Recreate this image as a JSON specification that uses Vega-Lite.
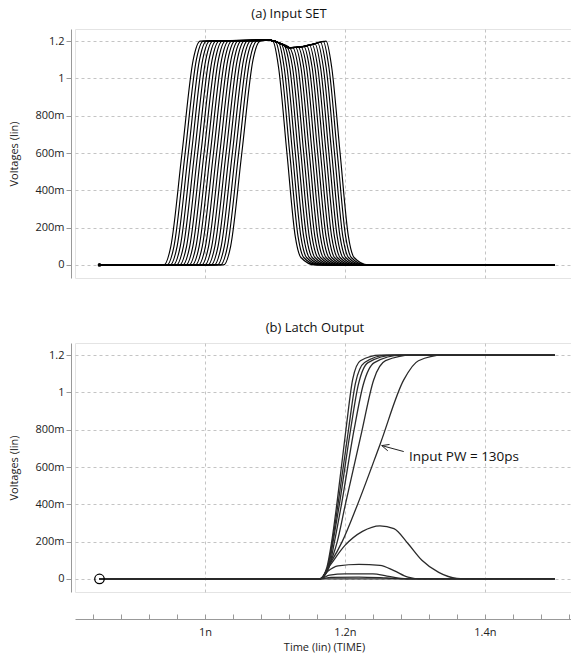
{
"$schema": "https://vega.github.io/schema/vega-lite/v6.json",
"padding": {"left": 8, "top": 7, "right": 0, "bottom": 0},
"spacing": 42,
"config": {
  "font": "Open Sans",
  "view": {"stroke": "#e4e4e4"},
  "axis": {"domainColor": "#999", "tickColor": "#999", "labelColor": "#222", "labelFontSize": 11, "labelFont": "Open Sans", "titleFont": "Open Sans", "titleFontSize": 11, "titleFontWeight": "normal", "titleColor": "#222", "gridColor": "#c4c4c4", "gridDash": [3, 3], "labelFlush": false},
  "title": {"fontSize": 13, "fontWeight": "normal", "color": "#111", "font": "Open Sans", "offset": 8}
},
"datasets": {
"a": [
{"c":0,"t":0.849,"v":0},{"c":0,"t":0.941,"v":0},{"c":0,"t":0.951,"v":0.1},{"c":0,"t":0.967,"v":0.6},{"c":0,"t":0.983,"v":1.1},{"c":0,"t":0.993,"v":1.2},{"c":0,"t":1.091,"v":1.205},{"c":0,"t":1.106,"v":1.19},{"c":0,"t":1.12,"v":1.165},{"c":0,"t":1.139,"v":1.17},{"c":0,"t":1.156,"v":1.185},{"c":0,"t":1.173,"v":1.2},{"c":0,"t":1.181,"v":1.06},{"c":0,"t":1.193,"v":0.6},{"c":0,"t":1.205,"v":0.15},{"c":0,"t":1.213,"v":0.04},{"c":0,"t":1.233,"v":0},{"c":0,"t":1.5,"v":0},
{"c":1,"t":0.849,"v":0},{"c":1,"t":0.9455,"v":0},{"c":1,"t":0.9555,"v":0.1},{"c":1,"t":0.9715,"v":0.6},{"c":1,"t":0.9875,"v":1.1},{"c":1,"t":0.9975,"v":1.2},{"c":1,"t":1.091,"v":1.205},{"c":1,"t":1.106,"v":1.19},{"c":1,"t":1.12,"v":1.165},{"c":1,"t":1.139,"v":1.17},{"c":1,"t":1.156,"v":1.185},{"c":1,"t":1.169,"v":1.199},{"c":1,"t":1.177,"v":1.06},{"c":1,"t":1.189,"v":0.6},{"c":1,"t":1.201,"v":0.15},{"c":1,"t":1.209,"v":0.04},{"c":1,"t":1.229,"v":0},{"c":1,"t":1.5,"v":0},
{"c":2,"t":0.849,"v":0},{"c":2,"t":0.95,"v":0},{"c":2,"t":0.96,"v":0.1},{"c":2,"t":0.976,"v":0.6},{"c":2,"t":0.992,"v":1.1},{"c":2,"t":1.002,"v":1.2},{"c":2,"t":1.091,"v":1.205},{"c":2,"t":1.106,"v":1.19},{"c":2,"t":1.12,"v":1.165},{"c":2,"t":1.139,"v":1.17},{"c":2,"t":1.156,"v":1.185},{"c":2,"t":1.165,"v":1.195},{"c":2,"t":1.173,"v":1.06},{"c":2,"t":1.185,"v":0.6},{"c":2,"t":1.197,"v":0.15},{"c":2,"t":1.205,"v":0.04},{"c":2,"t":1.225,"v":0},{"c":2,"t":1.5,"v":0},
{"c":3,"t":0.849,"v":0},{"c":3,"t":0.9545,"v":0},{"c":3,"t":0.9645,"v":0.1},{"c":3,"t":0.9805,"v":0.6},{"c":3,"t":0.9965,"v":1.1},{"c":3,"t":1.0065,"v":1.2},{"c":3,"t":1.091,"v":1.205},{"c":3,"t":1.106,"v":1.19},{"c":3,"t":1.12,"v":1.165},{"c":3,"t":1.139,"v":1.17},{"c":3,"t":1.156,"v":1.185},{"c":3,"t":1.161,"v":1.19},{"c":3,"t":1.169,"v":1.06},{"c":3,"t":1.181,"v":0.6},{"c":3,"t":1.193,"v":0.15},{"c":3,"t":1.201,"v":0.04},{"c":3,"t":1.221,"v":0},{"c":3,"t":1.5,"v":0},
{"c":4,"t":0.849,"v":0},{"c":4,"t":0.959,"v":0},{"c":4,"t":0.969,"v":0.1},{"c":4,"t":0.985,"v":0.6},{"c":4,"t":1.001,"v":1.1},{"c":4,"t":1.011,"v":1.2},{"c":4,"t":1.091,"v":1.205},{"c":4,"t":1.106,"v":1.19},{"c":4,"t":1.12,"v":1.165},{"c":4,"t":1.139,"v":1.17},{"c":4,"t":1.157,"v":1.186},{"c":4,"t":1.165,"v":1.06},{"c":4,"t":1.177,"v":0.6},{"c":4,"t":1.189,"v":0.15},{"c":4,"t":1.197,"v":0.04},{"c":4,"t":1.217,"v":0},{"c":4,"t":1.5,"v":0},
{"c":5,"t":0.849,"v":0},{"c":5,"t":0.9635,"v":0},{"c":5,"t":0.9735,"v":0.1},{"c":5,"t":0.9895,"v":0.6},{"c":5,"t":1.0055,"v":1.1},{"c":5,"t":1.0155,"v":1.2},{"c":5,"t":1.091,"v":1.205},{"c":5,"t":1.106,"v":1.19},{"c":5,"t":1.12,"v":1.165},{"c":5,"t":1.139,"v":1.17},{"c":5,"t":1.153,"v":1.182},{"c":5,"t":1.161,"v":1.06},{"c":5,"t":1.173,"v":0.6},{"c":5,"t":1.185,"v":0.15},{"c":5,"t":1.193,"v":0.04},{"c":5,"t":1.213,"v":0},{"c":5,"t":1.5,"v":0},
{"c":6,"t":0.849,"v":0},{"c":6,"t":0.968,"v":0},{"c":6,"t":0.978,"v":0.1},{"c":6,"t":0.994,"v":0.6},{"c":6,"t":1.01,"v":1.1},{"c":6,"t":1.02,"v":1.2},{"c":6,"t":1.091,"v":1.205},{"c":6,"t":1.106,"v":1.19},{"c":6,"t":1.12,"v":1.165},{"c":6,"t":1.139,"v":1.17},{"c":6,"t":1.149,"v":1.179},{"c":6,"t":1.157,"v":1.06},{"c":6,"t":1.169,"v":0.6},{"c":6,"t":1.181,"v":0.15},{"c":6,"t":1.189,"v":0.04},{"c":6,"t":1.209,"v":0},{"c":6,"t":1.5,"v":0},
{"c":7,"t":0.849,"v":0},{"c":7,"t":0.9725,"v":0},{"c":7,"t":0.9825,"v":0.1},{"c":7,"t":0.9985,"v":0.6},{"c":7,"t":1.0145,"v":1.1},{"c":7,"t":1.0245,"v":1.2},{"c":7,"t":1.091,"v":1.205},{"c":7,"t":1.106,"v":1.19},{"c":7,"t":1.12,"v":1.165},{"c":7,"t":1.139,"v":1.17},{"c":7,"t":1.145,"v":1.176},{"c":7,"t":1.153,"v":1.06},{"c":7,"t":1.165,"v":0.6},{"c":7,"t":1.177,"v":0.15},{"c":7,"t":1.185,"v":0.04},{"c":7,"t":1.205,"v":0},{"c":7,"t":1.5,"v":0},
{"c":8,"t":0.849,"v":0},{"c":8,"t":0.977,"v":0},{"c":8,"t":0.987,"v":0.1},{"c":8,"t":1.003,"v":0.6},{"c":8,"t":1.019,"v":1.1},{"c":8,"t":1.029,"v":1.2},{"c":8,"t":1.091,"v":1.205},{"c":8,"t":1.106,"v":1.19},{"c":8,"t":1.12,"v":1.165},{"c":8,"t":1.141,"v":1.172},{"c":8,"t":1.149,"v":1.06},{"c":8,"t":1.161,"v":0.6},{"c":8,"t":1.173,"v":0.15},{"c":8,"t":1.181,"v":0.04},{"c":8,"t":1.201,"v":0},{"c":8,"t":1.5,"v":0},
{"c":9,"t":0.849,"v":0},{"c":9,"t":0.9815,"v":0},{"c":9,"t":0.9915,"v":0.1},{"c":9,"t":1.0075,"v":0.6},{"c":9,"t":1.0235,"v":1.1},{"c":9,"t":1.0335,"v":1.2},{"c":9,"t":1.091,"v":1.205},{"c":9,"t":1.106,"v":1.19},{"c":9,"t":1.12,"v":1.165},{"c":9,"t":1.137,"v":1.169},{"c":9,"t":1.145,"v":1.06},{"c":9,"t":1.157,"v":0.6},{"c":9,"t":1.169,"v":0.15},{"c":9,"t":1.177,"v":0.04},{"c":9,"t":1.197,"v":0},{"c":9,"t":1.5,"v":0},
{"c":10,"t":0.849,"v":0},{"c":10,"t":0.986,"v":0},{"c":10,"t":0.996,"v":0.1},{"c":10,"t":1.012,"v":0.6},{"c":10,"t":1.028,"v":1.1},{"c":10,"t":1.038,"v":1.2},{"c":10,"t":1.091,"v":1.205},{"c":10,"t":1.106,"v":1.19},{"c":10,"t":1.12,"v":1.165},{"c":10,"t":1.133,"v":1.168},{"c":10,"t":1.141,"v":1.06},{"c":10,"t":1.153,"v":0.6},{"c":10,"t":1.165,"v":0.15},{"c":10,"t":1.173,"v":0.04},{"c":10,"t":1.193,"v":0},{"c":10,"t":1.5,"v":0},
{"c":11,"t":0.849,"v":0},{"c":11,"t":0.9905,"v":0},{"c":11,"t":1.0005,"v":0.1},{"c":11,"t":1.0165,"v":0.6},{"c":11,"t":1.0325,"v":1.1},{"c":11,"t":1.0425,"v":1.2},{"c":11,"t":1.091,"v":1.205},{"c":11,"t":1.106,"v":1.19},{"c":11,"t":1.12,"v":1.165},{"c":11,"t":1.129,"v":1.167},{"c":11,"t":1.137,"v":1.06},{"c":11,"t":1.149,"v":0.6},{"c":11,"t":1.161,"v":0.15},{"c":11,"t":1.169,"v":0.04},{"c":11,"t":1.189,"v":0},{"c":11,"t":1.5,"v":0},
{"c":12,"t":0.849,"v":0},{"c":12,"t":0.995,"v":0},{"c":12,"t":1.005,"v":0.1},{"c":12,"t":1.021,"v":0.6},{"c":12,"t":1.037,"v":1.1},{"c":12,"t":1.047,"v":1.2},{"c":12,"t":1.091,"v":1.205},{"c":12,"t":1.106,"v":1.19},{"c":12,"t":1.12,"v":1.165},{"c":12,"t":1.125,"v":1.166},{"c":12,"t":1.133,"v":1.06},{"c":12,"t":1.145,"v":0.6},{"c":12,"t":1.157,"v":0.15},{"c":12,"t":1.165,"v":0.04},{"c":12,"t":1.185,"v":0},{"c":12,"t":1.5,"v":0},
{"c":13,"t":0.849,"v":0},{"c":13,"t":0.9995,"v":0},{"c":13,"t":1.0095,"v":0.1},{"c":13,"t":1.0255,"v":0.6},{"c":13,"t":1.0415,"v":1.1},{"c":13,"t":1.0515,"v":1.2},{"c":13,"t":1.091,"v":1.205},{"c":13,"t":1.106,"v":1.19},{"c":13,"t":1.121,"v":1.165},{"c":13,"t":1.129,"v":1.06},{"c":13,"t":1.141,"v":0.6},{"c":13,"t":1.153,"v":0.15},{"c":13,"t":1.161,"v":0.04},{"c":13,"t":1.181,"v":0},{"c":13,"t":1.5,"v":0},
{"c":14,"t":0.849,"v":0},{"c":14,"t":1.004,"v":0},{"c":14,"t":1.014,"v":0.1},{"c":14,"t":1.03,"v":0.6},{"c":14,"t":1.046,"v":1.1},{"c":14,"t":1.056,"v":1.2},{"c":14,"t":1.091,"v":1.205},{"c":14,"t":1.106,"v":1.19},{"c":14,"t":1.117,"v":1.169},{"c":14,"t":1.125,"v":1.06},{"c":14,"t":1.137,"v":0.6},{"c":14,"t":1.149,"v":0.15},{"c":14,"t":1.157,"v":0.04},{"c":14,"t":1.177,"v":0},{"c":14,"t":1.5,"v":0},
{"c":15,"t":0.849,"v":0},{"c":15,"t":1.0085,"v":0},{"c":15,"t":1.0185,"v":0.1},{"c":15,"t":1.0345,"v":0.6},{"c":15,"t":1.0505,"v":1.1},{"c":15,"t":1.0605,"v":1.2},{"c":15,"t":1.091,"v":1.205},{"c":15,"t":1.106,"v":1.19},{"c":15,"t":1.113,"v":1.178},{"c":15,"t":1.121,"v":1.06},{"c":15,"t":1.133,"v":0.6},{"c":15,"t":1.145,"v":0.15},{"c":15,"t":1.153,"v":0.04},{"c":15,"t":1.173,"v":0},{"c":15,"t":1.5,"v":0},
{"c":16,"t":0.849,"v":0},{"c":16,"t":1.013,"v":0},{"c":16,"t":1.023,"v":0.1},{"c":16,"t":1.039,"v":0.6},{"c":16,"t":1.055,"v":1.1},{"c":16,"t":1.065,"v":1.2},{"c":16,"t":1.091,"v":1.205},{"c":16,"t":1.109,"v":1.185},{"c":16,"t":1.117,"v":1.06},{"c":16,"t":1.129,"v":0.6},{"c":16,"t":1.141,"v":0.15},{"c":16,"t":1.149,"v":0.04},{"c":16,"t":1.169,"v":0},{"c":16,"t":1.5,"v":0},
{"c":17,"t":0.849,"v":0},{"c":17,"t":1.0175,"v":0},{"c":17,"t":1.0275,"v":0.1},{"c":17,"t":1.0435,"v":0.6},{"c":17,"t":1.0595,"v":1.1},{"c":17,"t":1.0695,"v":1.2},{"c":17,"t":1.091,"v":1.205},{"c":17,"t":1.105,"v":1.191},{"c":17,"t":1.113,"v":1.06},{"c":17,"t":1.125,"v":0.6},{"c":17,"t":1.137,"v":0.15},{"c":17,"t":1.145,"v":0.04},{"c":17,"t":1.165,"v":0},{"c":17,"t":1.5,"v":0},
{"c":18,"t":0.849,"v":0},{"c":18,"t":1.022,"v":0},{"c":18,"t":1.032,"v":0.1},{"c":18,"t":1.048,"v":0.6},{"c":18,"t":1.064,"v":1.1},{"c":18,"t":1.074,"v":1.2},{"c":18,"t":1.091,"v":1.205},{"c":18,"t":1.101,"v":1.195},{"c":18,"t":1.109,"v":1.06},{"c":18,"t":1.121,"v":0.6},{"c":18,"t":1.133,"v":0.15},{"c":18,"t":1.141,"v":0.04},{"c":18,"t":1.161,"v":0},{"c":18,"t":1.5,"v":0},
{"c":19,"t":0.849,"v":0},{"c":19,"t":1.0265,"v":0},{"c":19,"t":1.0365,"v":0.1},{"c":19,"t":1.0525,"v":0.6},{"c":19,"t":1.0685,"v":1.1},{"c":19,"t":1.0785,"v":1.2},{"c":19,"t":1.091,"v":1.205},{"c":19,"t":1.097,"v":1.199},{"c":19,"t":1.105,"v":1.06},{"c":19,"t":1.117,"v":0.6},{"c":19,"t":1.129,"v":0.15},{"c":19,"t":1.137,"v":0.04},{"c":19,"t":1.157,"v":0},{"c":19,"t":1.5,"v":0}
],
"b": [
{"c":0,"t":0.849,"v":0},{"c":0,"t":1.164,"v":0},{"c":0,"t":1.174,"v":0.06},{"c":0,"t":1.181,"v":0.2},{"c":0,"t":1.189,"v":0.42},{"c":0,"t":1.202,"v":0.82},{"c":0,"t":1.211,"v":1.07},{"c":0,"t":1.222,"v":1.17},{"c":0,"t":1.25,"v":1.2},{"c":0,"t":1.5,"v":1.2},
{"c":1,"t":0.849,"v":0},{"c":1,"t":1.164,"v":0},{"c":1,"t":1.175,"v":0.06},{"c":1,"t":1.182,"v":0.2},{"c":1,"t":1.19,"v":0.4},{"c":1,"t":1.205,"v":0.8},{"c":1,"t":1.215,"v":1.05},{"c":1,"t":1.228,"v":1.16},{"c":1,"t":1.26,"v":1.2},{"c":1,"t":1.5,"v":1.2},
{"c":2,"t":0.849,"v":0},{"c":2,"t":1.164,"v":0},{"c":2,"t":1.176,"v":0.06},{"c":2,"t":1.183,"v":0.2},{"c":2,"t":1.192,"v":0.4},{"c":2,"t":1.208,"v":0.8},{"c":2,"t":1.219,"v":1.04},{"c":2,"t":1.233,"v":1.16},{"c":2,"t":1.27,"v":1.2},{"c":2,"t":1.5,"v":1.2},
{"c":3,"t":0.849,"v":0},{"c":3,"t":1.164,"v":0},{"c":3,"t":1.177,"v":0.06},{"c":3,"t":1.185,"v":0.2},{"c":3,"t":1.195,"v":0.4},{"c":3,"t":1.213,"v":0.8},{"c":3,"t":1.226,"v":1.04},{"c":3,"t":1.242,"v":1.16},{"c":3,"t":1.28,"v":1.2},{"c":3,"t":1.5,"v":1.2},
{"c":4,"t":0.849,"v":0},{"c":4,"t":1.164,"v":0},{"c":4,"t":1.177,"v":0.07},{"c":4,"t":1.189,"v":0.2},{"c":4,"t":1.2,"v":0.39},{"c":4,"t":1.224,"v":0.79},{"c":4,"t":1.241,"v":1.067},{"c":4,"t":1.258,"v":1.17},{"c":4,"t":1.295,"v":1.2},{"c":4,"t":1.5,"v":1.2},
{"c":5,"t":0.849,"v":0},{"c":5,"t":1.164,"v":0},{"c":5,"t":1.18,"v":0.09},{"c":5,"t":1.196,"v":0.2},{"c":5,"t":1.217,"v":0.39},{"c":5,"t":1.25,"v":0.72},{"c":5,"t":1.284,"v":1.067},{"c":5,"t":1.305,"v":1.17},{"c":5,"t":1.34,"v":1.2},{"c":5,"t":1.5,"v":1.2},
{"c":6,"t":0.849,"v":0},{"c":6,"t":1.164,"v":0},{"c":6,"t":1.178,"v":0.07},{"c":6,"t":1.2,"v":0.18},{"c":6,"t":1.225,"v":0.255},{"c":6,"t":1.25,"v":0.285},{"c":6,"t":1.27,"v":0.27},{"c":6,"t":1.29,"v":0.19},{"c":6,"t":1.31,"v":0.1},{"c":6,"t":1.334,"v":0.035},{"c":6,"t":1.36,"v":0.003},{"c":6,"t":1.38,"v":0},{"c":6,"t":1.5,"v":0},
{"c":7,"t":0.849,"v":0},{"c":7,"t":1.164,"v":0},{"c":7,"t":1.175,"v":0.04},{"c":7,"t":1.19,"v":0.07},{"c":7,"t":1.22,"v":0.078},{"c":7,"t":1.25,"v":0.073},{"c":7,"t":1.27,"v":0.045},{"c":7,"t":1.29,"v":0.01},{"c":7,"t":1.31,"v":0},{"c":7,"t":1.5,"v":0},
{"c":8,"t":0.849,"v":0},{"c":8,"t":1.164,"v":0},{"c":8,"t":1.178,"v":0.02},{"c":8,"t":1.2,"v":0.027},{"c":8,"t":1.24,"v":0.027},{"c":8,"t":1.26,"v":0.015},{"c":8,"t":1.28,"v":0.003},{"c":8,"t":1.3,"v":0},{"c":8,"t":1.5,"v":0},
{"c":9,"t":0.849,"v":0},{"c":9,"t":1.164,"v":0},{"c":9,"t":1.18,"v":0.008},{"c":9,"t":1.22,"v":0.01},{"c":9,"t":1.26,"v":0.005},{"c":9,"t":1.29,"v":0},{"c":9,"t":1.5,"v":0},
{"c":10,"t":0.849,"v":0},{"c":10,"t":1.5,"v":0}
],
"arrow": [
{"t":1.284,"v":0.683,"t2":1.2525,"v2":0.715},
{"t":1.2525,"v":0.715,"t2":1.2612,"v2":0.687},
{"t":1.2525,"v":0.715,"t2":1.2637,"v2":0.721}
]
},
"vconcat": [
{
  "title": {"text": "(a) Input SET", "dx": -35},
  "width": 498,
  "height": 249,
  "layer": [
    {
      "data": {"name": "a"},
      "mark": {"type": "line", "interpolate": "monotone", "color": "#000", "strokeWidth": 1.15},
      "encoding": {
        "x": {"field": "t", "type": "quantitative", "scale": {"domain": [0.814, 1.526], "nice": false, "zero": false},
              "axis": {"title": null, "labels": false, "ticks": false, "domain": false, "values": [1, 1.2, 1.4]}},
        "y": {"field": "v", "type": "quantitative", "scale": {"domain": [-0.07, 1.265], "nice": false, "zero": false},
              "axis": {"title": "Voltages (lin)", "values": [0,0.1,0.2,0.3,0.4,0.5,0.6,0.7,0.8,0.9,1,1.1,1.2], "offset": 4, "tickSize": 5, "titlePadding": 15, "labelOverlap": false,
                       "labelExpr": "round(datum.value*10)%2==1 ? '' : datum.value < 0.05 ? '0' : abs(datum.value-1)<0.01 ? '1' : abs(datum.value-1.2)<0.01 ? '1.2' : round(datum.value*1000)+'m'",
                       "gridOpacity": {"condition": {"test": "round(datum.value*10)%2==0", "value": 1}, "value": 0}}},
        "detail": {"field": "c", "type": "nominal"}
      }
    },
    {
      "data": {"values": [{"t": 0.849, "v": 0}]},
      "mark": {"type": "point", "filled": true, "color": "#000", "size": 14, "opacity": 1},
      "encoding": {"x": {"field": "t", "type": "quantitative"}, "y": {"field": "v", "type": "quantitative"}}
    }
  ]
},
{
  "title": {"text": "(b) Latch Output", "dx": -9},
  "width": 498,
  "height": 249,
  "resolve": {"axis": {"x": "independent"}},
  "layer": [
    {
      "data": {"name": "b"},
      "mark": {"type": "line", "interpolate": "monotone", "color": "#2a2a2a", "strokeWidth": 1.3},
      "encoding": {
        "x": {"field": "t", "type": "quantitative", "scale": {"domain": [0.814, 1.526], "nice": false, "zero": false},
              "axis": {"orient": "bottom", "title": "Time (lin) (TIME)", "values": [1, 1.2, 1.4], "offset": 27, "tickSize": -5, "labelPadding": 12, "titlePadding": 4, "labelOverlap": false,
                       "labelExpr": "abs(datum.value-1)<0.001 ? '1n' : abs(datum.value-1.2)<0.001 ? '1.2n' : '1.4n'"}},
        "y": {"field": "v", "type": "quantitative", "scale": {"domain": [-0.07, 1.265], "nice": false, "zero": false},
              "axis": {"title": "Voltages (lin)", "values": [0,0.1,0.2,0.3,0.4,0.5,0.6,0.7,0.8,0.9,1,1.1,1.2], "offset": 4, "tickSize": 5, "titlePadding": 15, "labelOverlap": false,
                       "labelExpr": "round(datum.value*10)%2==1 ? '' : datum.value < 0.05 ? '0' : abs(datum.value-1)<0.01 ? '1' : abs(datum.value-1.2)<0.01 ? '1.2' : round(datum.value*1000)+'m'",
                       "gridOpacity": {"condition": {"test": "round(datum.value*10)%2==0", "value": 1}, "value": 0}}},
        "detail": {"field": "c", "type": "nominal"}
      }
    },
    {
      "data": {"values": [{"t": 0.849, "v": 0}]},
      "mark": {"type": "point", "filled": false, "color": "#000", "size": 90, "strokeWidth": 1.3, "opacity": 1},
      "encoding": {
        "x": {"field": "t", "type": "quantitative",
              "axis": {"orient": "bottom", "title": null, "labels": false, "grid": false, "domain": false, "offset": 27, "tickSize": -5, "values": [0.84,0.88,0.92,0.96,1.04,1.08,1.12,1.16,1.24,1.28,1.32,1.36,1.44,1.48,1.52]}},
        "y": {"field": "v", "type": "quantitative"}
      }
    },
    {
      "data": {"name": "arrow"},
      "mark": {"type": "rule", "color": "#222", "strokeWidth": 1},
      "encoding": {"x": {"field": "t", "type": "quantitative", "axis": null}, "y": {"field": "v", "type": "quantitative"}, "x2": {"field": "t2"}, "y2": {"field": "v2"}}
    },
    {
      "data": {"values": [{"t": 1.2914, "v": 0.656, "label": "Input PW = 130ps"}]},
      "mark": {"type": "text", "align": "left", "baseline": "middle", "fontSize": 13.5, "font": "Open Sans", "color": "#111"},
      "encoding": {"x": {"field": "t", "type": "quantitative", "axis": null}, "y": {"field": "v", "type": "quantitative"}, "text": {"field": "label"}}
    }
  ]
}
]
}
